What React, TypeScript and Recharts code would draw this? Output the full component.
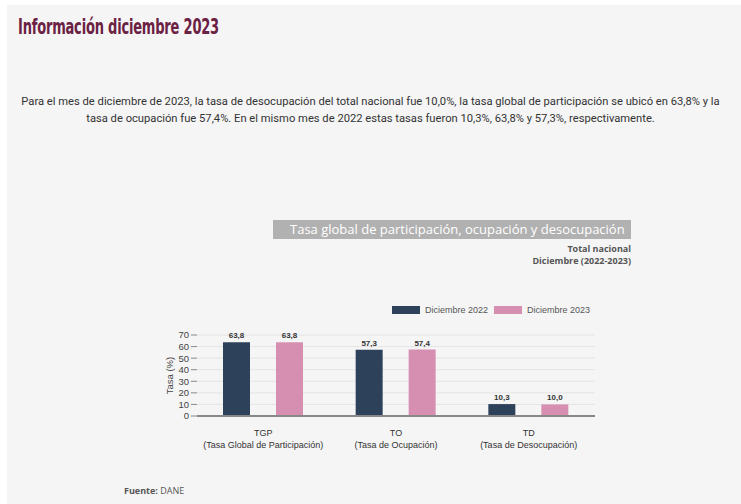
import React from 'react';
import { BarChart, Bar, XAxis, YAxis, CartesianGrid, LabelList, Legend, Label } from 'recharts';

const categories = ['TGP', 'TO', 'TD'];
const categoryNames = ['(Tasa Global de Participación)', '(Tasa de Ocupación)', '(Tasa de Desocupación)'];
const dic2022 = [63.8, 57.3, 10.3];
const dic2023 = [63.8, 57.4, 10.0];
const yTicks = [0, 10, 20, 30, 40, 50, 60, 70];
const seriesNames = ['Diciembre 2022', 'Diciembre 2023'];
const colors = ['#2e415b', '#d78fb1'];

const data = categories.map((c, i) => ({ cat: c, full: categoryNames[i], a: dic2022[i], b: dic2023[i] }));

const fmt = (v: number) => v.toFixed(1).replace('.', ',');

const XTick = (props: any) => {
  const { x, y, payload } = props;
  const idx = categories.indexOf(payload.value);
  return (
    <g>
      <text x={x} y={y + 12} textAnchor="middle" fontSize={9} fill="#333" fontFamily="Liberation Sans, Arial, sans-serif">{payload.value}</text>
      <text x={x} y={y + 24} textAnchor="middle" fontSize={9} fill="#333" fontFamily="Liberation Sans, Arial, sans-serif">{categoryNames[idx]}</text>
    </g>
  );
};

const LegendContent = () => (
  <div style={{ display: 'flex', alignItems: 'center', fontFamily: 'Liberation Sans, Arial, sans-serif', fontSize: 9, color: '#555' }}>
    {seriesNames.map((n, i) => (
      <div key={n} style={{ display: 'flex', alignItems: 'center', marginRight: 6 }}>
        <div style={{ width: 28, height: 8, background: colors[i], marginRight: 5 }} />
        <span>{n}</span>
      </div>
    ))}
  </div>
);

export default function App() {
  return (
    <div style={{ position: 'absolute', left: 0, top: 0, width: 741, height: 504, background: '#fff', overflow: 'hidden' }}>
      <div style={{ position: 'absolute', left: 7, top: 5, width: 734, height: 499, background: '#f5f5f5' }} />
      <div style={{ position: 'absolute', left: 18, top: 15, fontFamily: '"Liberation Sans Narrow", "DejaVu Sans Condensed", sans-serif', fontWeight: 700, fontSize: 21, color: '#6b2143', transform: 'scaleX(0.69)', transformOrigin: 'left center', whiteSpace: 'nowrap', letterSpacing: -0.3 }}>
        Información diciembre 2023
      </div>
      <div style={{ position: 'absolute', left: 0, width: 741, top: 93, textAlign: 'center', fontFamily: 'Roboto, sans-serif', fontSize: 11.2, lineHeight: '17px', color: '#333', whiteSpace: 'nowrap' }}>
        Para el mes de diciembre de 2023, la tasa de desocupación del total nacional fue 10,0%, la tasa global de participación se ubicó en 63,8% y la<br />
        tasa de ocupación fue 57,4%. En el mismo mes de 2022 estas tasas fueron 10,3%, 63,8% y 57,3%, respectivamente.
      </div>
      <div style={{ position: 'absolute', left: 273, top: 220, width: 358, height: 19, background: '#b1b1b1', color: '#fff', fontFamily: '"Open Sans", sans-serif', fontSize: 13, lineHeight: '19px', whiteSpace: 'nowrap', boxSizing: 'border-box', paddingLeft: 17, overflow: 'hidden' }}>
        Tasa global de participación, ocupación y desocupación
      </div>
      <div style={{ position: 'absolute', right: 741 - 631, top: 243, textAlign: 'right', fontFamily: '"Open Sans", sans-serif', fontSize: 9, fontWeight: 700, color: '#555', lineHeight: '12px' }}>
        Total nacional<br />Diciembre (2022-2023)
      </div>
      <div style={{ position: 'absolute', left: 140, top: 300 }}>
        <BarChart width={470} height={150} data={data} margin={{ top: 25, right: 15, left: 17, bottom: 0 }} barCategoryGap={26} barGap={26}>
          <CartesianGrid vertical={false} stroke="#e4e4e4" strokeWidth={1} />
          <XAxis dataKey="cat" tick={<XTick />} tickLine={false} axisLine={{ stroke: '#888', strokeWidth: 2 }} height={34} interval={0} />
          <YAxis domain={[0, 70]} ticks={yTicks} width={40} axisLine={false} tickLine={{ stroke: '#888' }} tickSize={6} tick={{ fontSize: 9.5, fill: '#444', fontFamily: 'Liberation Sans, Arial, sans-serif' }} interval={0}>
            <Label value="Tasa (%)" angle={-90} position="insideLeft" offset={13} style={{ textAnchor: 'middle', fontSize: 9.5, fill: '#444', fontFamily: 'Liberation Sans, Arial, sans-serif' }} />
          </YAxis>
          <Legend content={<LegendContent />} verticalAlign="top" wrapperStyle={{ position: 'absolute', top: 5, left: 252, width: 'auto' }} />
          <Bar dataKey="a" name={seriesNames[0]} fill={colors[0]} isAnimationActive={false}>
            <LabelList dataKey="a" position="top" offset={4} formatter={(v: any) => fmt(Number(v))} style={{ fontSize: 8, fontWeight: 700, fill: '#333', fontFamily: 'Liberation Sans, Arial, sans-serif' }} />
          </Bar>
          <Bar dataKey="b" name={seriesNames[1]} fill={colors[1]} isAnimationActive={false}>
            <LabelList dataKey="b" position="top" offset={4} formatter={(v: any) => fmt(Number(v))} style={{ fontSize: 8, fontWeight: 700, fill: '#333', fontFamily: 'Liberation Sans, Arial, sans-serif' }} />
          </Bar>
        </BarChart>
      </div>
      <div style={{ position: 'absolute', left: 124, top: 484, fontFamily: '"Open Sans", sans-serif', fontSize: 9, color: '#555' }}>
        <b>Fuente:</b> DANE
      </div>
    </div>
  );
}
